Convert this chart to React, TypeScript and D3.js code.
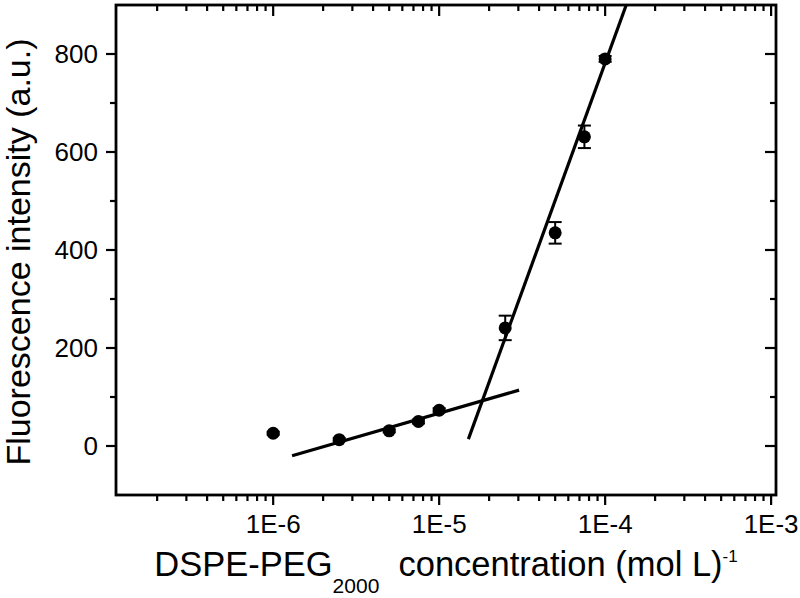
import React from "react";
import * as d3 from "d3";

// Data
const concentration = [1e-6, 2.5e-6, 5e-6, 7.5e-6, 1e-5, 2.5e-5, 5e-5, 7.5e-5, 1e-4];
const intensity = [26, 13, 31, 50, 73, 241, 435, 631, 790];
const errors = [3, 3, 3, 4, 4, 25, 22, 23, 6];

// Linear fits (drawn as straight segments on log-x axis)
const fitLowX = [1.3e-6, 3.03e-5];
const fitLowY = [-20, 114];
const fitHighX = [1.5e-5, 1.34e-4];
const fitHighY = [14, 900];

const xTickValues = [1e-6, 1e-5, 1e-4, 1e-3];
const xTickLabels = ["1E-6", "1E-5", "1E-4", "1E-3"];
const yTickValues = [0, 200, 400, 600, 800];
const yMinorValues = [100, 300, 500, 700];

const W = 800;
const H = 598;
const L = 116, R = 776, T = 5, B = 495;
const FONT = "'Liberation Sans', Arial, Helvetica, sans-serif";

export default function App() {
  const x = d3.scaleLog().domain([1.13e-7, 1.07e-3]).range([L, R]);
  const y = d3.scaleLinear().domain([-100, 900]).range([B, T]);

  const xMinor: number[] = [];
  [1e-7, 1e-6, 1e-5, 1e-4].forEach((d) => {
    for (let k = 2; k <= 9; k++) {
      const v = d * k;
      if (v >= 1.13e-7 && v <= 1.07e-3) xMinor.push(v);
    }
  });

  const line = d3
    .line<[number, number]>()
    .x((d) => x(d[0]))
    .y((d) => y(d[1]));

  const low: [number, number][] = fitLowX.map((v, i) => [v, fitLowY[i]]);
  const high: [number, number][] = fitHighX.map((v, i) => [v, fitHighY[i]]);

  const tickStroke = 2.2;

  return (
    <svg
      width={W}
      height={H}
      style={{ position: "absolute", left: 0, top: 0, background: "#fff" }}
      fontFamily={FONT}
    >
      <rect x={0} y={0} width={W} height={H} fill="#fff" />
      <defs>
        <clipPath id="plotClip">
          <rect x={L} y={T} width={R - L} height={B - T} />
        </clipPath>
      </defs>

      {/* bottom/top x ticks */}
      {xTickValues.map((v) => (
        <g key={"xt" + v}>
          <line x1={x(v)} x2={x(v)} y1={B} y2={B + 10} stroke="#000" strokeWidth={tickStroke} />
          <line x1={x(v)} x2={x(v)} y1={T} y2={T + 11} stroke="#000" strokeWidth={tickStroke} />
        </g>
      ))}
      {xMinor.map((v) => (
        <g key={"xm" + v}>
          <line x1={x(v)} x2={x(v)} y1={B} y2={B + 6} stroke="#000" strokeWidth={tickStroke} />
          <line x1={x(v)} x2={x(v)} y1={T} y2={T + 6} stroke="#000" strokeWidth={tickStroke} />
        </g>
      ))}
      {/* left/right y ticks */}
      {yTickValues.map((v) => (
        <g key={"yt" + v}>
          <line x1={L - 10} x2={L} y1={y(v)} y2={y(v)} stroke="#000" strokeWidth={tickStroke} />
          <line x1={R - 11} x2={R} y1={y(v)} y2={y(v)} stroke="#000" strokeWidth={tickStroke} />
        </g>
      ))}
      {yMinorValues.map((v) => (
        <g key={"ym" + v}>
          <line x1={L - 6} x2={L} y1={y(v)} y2={y(v)} stroke="#000" strokeWidth={tickStroke} />
          <line x1={R - 6} x2={R} y1={y(v)} y2={y(v)} stroke="#000" strokeWidth={tickStroke} />
        </g>
      ))}

      {/* frame */}
      <rect x={L} y={T} width={R - L} height={B - T} fill="none" stroke="#000" strokeWidth={2.8} />

      {/* tick labels */}
      {xTickValues.map((v, i) => (
        <text key={"xl" + v} x={x(v)} y={533} textAnchor="middle" fontSize={26} fill="#000">
          {xTickLabels[i]}
        </text>
      ))}
      {yTickValues.map((v) => (
        <text key={"yl" + v} x={98} y={y(v)} dy="0.36em" textAnchor="end" fontSize={26} fill="#000">
          {v}
        </text>
      ))}

      {/* fits */}
      <g clipPath="url(#plotClip)">
        <path d={line(low) || ""} fill="none" stroke="#000" strokeWidth={3.2} />
        <path d={line(high) || ""} fill="none" stroke="#000" strokeWidth={3.2} />
      </g>

      {/* error bars and points */}
      {concentration.map((c, i) => {
        const cx = x(c);
        const y1 = y(intensity[i] + errors[i]);
        const y2 = y(intensity[i] - errors[i]);
        return (
          <g key={"p" + i}>
            <line x1={cx} x2={cx} y1={y1} y2={y2} stroke="#000" strokeWidth={2} />
            <line x1={cx - 6.5} x2={cx + 6.5} y1={y1} y2={y1} stroke="#000" strokeWidth={2} />
            <line x1={cx - 6.5} x2={cx + 6.5} y1={y2} y2={y2} stroke="#000" strokeWidth={2} />
            <circle cx={cx} cy={y(intensity[i])} r={6.5} fill="#000" />
          </g>
        );
      })}

      {/* axis titles */}
      <text
        transform={`translate(30, ${(T + B) / 2 + 2}) rotate(-90)`}
        textAnchor="middle"
        fontSize={34}
        fill="#000"
      >
        Fluorescence intensity (a.u.)
      </text>
      <text x={(L + R) / 2} y={576} textAnchor="middle" fontSize={34.5} fill="#000">
        <tspan>DSPE-PEG</tspan>
        <tspan fontSize={21} dy={17}>2000</tspan>
        <tspan dy={-17}>{"\u00a0\u00a0concentration (mol L)"}</tspan>
        <tspan fontSize={17} dy={-14}>-1</tspan>
      </text>
    </svg>
  );
}
